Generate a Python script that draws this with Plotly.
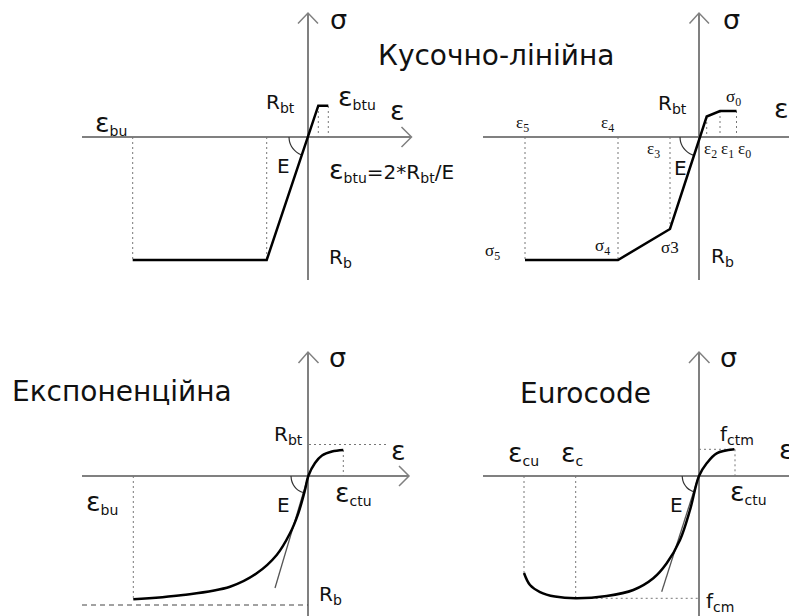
import plotly.graph_objects as go

W, H = 797, 616
PAD = 8  # відступ body сторінки в браузері

# Осі: чотири діаграми, відрізки розділені None (координати в пікселях малюнка)
axis_x = [308, 308, None, 82, 411, None, 699, 699, None, 483, 805, None,
          308, 308, None, 82, 409, None, 699, 699, None, 483, 805]
axis_y = [13, 280, None, 137, 137, None, 13, 280, None, 137, 137, None,
          352, 620, None, 476, 476, None, 352, 620, None, 476, 476]

# Стрілки осей
arrow_x = [298, 308, 318, None, 401.5, 411.5, 401.5, None,
           689.5, 699, 709, None, 795, 805, 795, None,
           298.5, 308, 318.5, None, 399, 409, 399, None,
           689, 699, 709.5, None, 795, 805, 795]
arrow_y = [23.5, 13, 23.5, None, 127, 137, 147, None,
           23.5, 13, 23.5, None, 127, 137, 147, None,
           363, 352, 363, None, 466, 476, 486, None,
           363, 352, 363, None, 466, 476, 486]

# Кусочно-лінійна (ліва, двохлінійна)
bilin_x = [132.7, 266.7, 318.3, 328.3]
bilin_y = [260, 260, 105.7, 105.7]

# Кусочно-лінійна (права, багатолінійна)
multi_x = [525, 618, 670, 706.7, 720, 736.5]
multi_y = [260, 260, 229, 116.5, 111, 111]

# Експоненційна
expo_x = [133.3, 183, 230, 256.7, 276.7, 290, 298.3, 305, 308.3, 315, 322, 332, 343.3]
expo_y = [599.3, 595, 586.7, 573.3, 555, 533.3, 513.3, 490, 476, 463, 455.5, 451.5, 450]

# Eurocode
euro_x = [524, 530, 540, 555, 575.7, 606.7, 633.3, 653.3, 666.7, 680, 690, 699, 706.7, 716.7, 734.3]
euro_y = [573, 585, 592, 596.5, 598.3, 596, 590, 578.3, 563.3, 540, 510, 476, 463.3, 453.3, 449.3]

# Дотичні (модуль E)
tang_x = [275, 308.3, None, 661.7, 698.7]
tang_y = [588, 476, None, 591.7, 476]

# Дуги кута E біля початку координат
arc_x = [289, 289.6, 291.5, 294.6, 298.5, 302, None,
         680, 680.6, 682.5, 685.6, 689.5, 693.2, None,
         291, 291.6, 293.3, 296, 299.5, 303, None,
         682.2, 682.8, 684.4, 687, 690.5, 693.7]
arc_y = [137, 141.9, 146.5, 150.4, 153.5, 155, None,
         137, 141.9, 146.5, 150.4, 153.5, 155.1, None,
         476, 480.5, 484.7, 488.3, 491, 492.5, None,
         476, 480.3, 484.3, 487.7, 490.3, 491.7]

# Допоміжні пунктирні лінії
dot_x = [132.7, 132.7, None, 266.7, 266.7, None, 318.3, 318.3, None, 328.3, 328.3, None,
         525, 525, None, 618, 618, None, 670, 670, None, 706.7, 706.7, None,
         720, 720, None, 736.5, 736.5, None,
         343.3, 343.3, None, 309, 387, None, 133.3, 133.3, None,
         524, 524, None, 575.7, 575.7, None, 575.7, 699, None, 699, 735, None, 735, 735]
dot_y = [137, 260, None, 137, 260, None, 106, 137, None, 106, 137, None,
         137, 260, None, 137, 260, None, 137, 229, None, 117, 137, None,
         111, 137, None, 111, 137, None,
         450, 476, None, 444.5, 444.5, None, 476, 599, None,
         476, 573, None, 476, 598.3, None, 598.3, 598.3, None, 449.3, 449.3, None, 449.3, 476]

# Штрихова лінія Rb
dash_x = [82, 308]
dash_y = [605, 605]

# Заголовки
title_text = ["Кусочно-лінійна", "Експоненційна", "Eurocode"]
title_x = [376, 10, 518]
title_y = [55, 391, 393]

EPS = '<span style="font-size:27px">ε</span>'
SIG = '<span style="font-size:27px">σ</span>'

# Підписи (DejaVu Sans)
lab_text = [SIG, EPS + "<sub>bu</sub>", "R<sub>bt</sub>", EPS + "<sub>btu</sub>", EPS, "E", "R<sub>b</sub>",
            SIG, "R<sub>bt</sub>", EPS, "E", "R<sub>b</sub>",
            SIG, "R<sub>bt</sub>", EPS, EPS + "<sub>bu</sub>", "E", EPS + "<sub>ctu</sub>", "R<sub>b</sub>",
            SIG, "f<sub>ctm</sub>", EPS, EPS + "<sub>cu</sub>", EPS + "<sub>c</sub>", "E",
            EPS + "<sub>ctu</sub>", "f<sub>cm</sub>"]
lab_x = [338, 110.5, 280, 357, 397, 283, 340,
         731.5, 672, 781, 680, 722,
         337.5, 288, 398, 101.5, 283.3, 353, 330,
         728, 737, 786, 523, 572, 676, 748, 720]
lab_y = [19, 123, 103, 97, 110, 166, 258,
         19, 104, 108, 168, 257,
         357, 435, 450, 502, 505, 493, 595,
         357, 435, 449, 453, 453, 505, 492, 602]

# Формула
formula_text = EPS + "<sub>btu</sub>=2*R<sub>bt</sub>/E"
formula_x, formula_y = 327, 170

# Дрібні підписи (серифний шрифт)
small_text = ["ε<sub>5</sub>", "ε<sub>4</sub>", "ε<sub>3</sub>", "ε<sub>2</sub>", "ε<sub>1</sub>", "ε<sub>0</sub>",
              "σ<sub>0</sub>", "σ<sub>5</sub>", "σ<sub>4</sub>", "σ3"]
small_x = [522, 607, 653, 710, 727, 744, 733, 492, 602, 670]
small_y = [124, 124, 150, 150, 150, 150, 98, 252, 247, 247]

fig = go.Figure()

AX = '#808080'
fig.add_trace(go.Scatter(x=axis_x, y=axis_y, mode='lines', line={'color': AX, 'width': 2}))
fig.add_trace(go.Scatter(x=arrow_x, y=arrow_y, mode='lines', line={'color': AX, 'width': 1.5}))
fig.add_trace(go.Scatter(x=dot_x, y=dot_y, mode='lines', line={'color': '#777777', 'width': 1, 'dash': '2px,3px'}))
fig.add_trace(go.Scatter(x=dash_x, y=dash_y, mode='lines', line={'color': '#444444', 'width': 1, 'dash': '5px,4px'}))
fig.add_trace(go.Scatter(x=tang_x, y=tang_y, mode='lines', line={'color': '#555555', 'width': 1.3}))
fig.add_trace(go.Scatter(x=arc_x, y=arc_y, mode='lines', line={'color': '#333333', 'width': 1.2, 'shape': 'spline'}))

for cx, cy, shp in [(bilin_x, bilin_y, 'linear'), (multi_x, multi_y, 'linear'),
                    (expo_x, expo_y, 'spline'), (euro_x, euro_y, 'spline')]:
    fig.add_trace(go.Scatter(x=cx, y=cy, mode='lines', line={'color': 'black', 'width': 2.5, 'shape': shp}))

ann = []
for t, x, y in zip(title_text, title_x, title_y):
    ann.append(dict(text=t, x=x, y=y, xanchor='left', yanchor='middle', showarrow=False,
                    font={'family': 'DejaVu Sans', 'size': 28, 'color': '#111111'}))
for t, x, y in zip(lab_text, lab_x, lab_y):
    ann.append(dict(text=t, x=x, y=y, xanchor='center', yanchor='middle', showarrow=False,
                    font={'family': 'DejaVu Sans', 'size': 20, 'color': '#111111'}))
ann.append(dict(text=formula_text, x=formula_x, y=formula_y, xanchor='left', yanchor='middle',
                showarrow=False, font={'family': 'DejaVu Sans', 'size': 20, 'color': '#111111'}))
for t, x, y in zip(small_text, small_x, small_y):
    ann.append(dict(text=t, x=x, y=y, xanchor='center', yanchor='middle', showarrow=False,
                    font={'family': 'Liberation Serif', 'size': 17, 'color': '#111111'}))

# фігура займає вікно за вирахуванням відступу body
fig.update_layout(
    width=W - PAD, height=H - PAD,
    margin={'l': 0, 'r': 0, 't': 0, 'b': 0},
    paper_bgcolor='white', plot_bgcolor='white',
    showlegend=False,
    annotations=ann,
)
fig.update_xaxes(range=[PAD, W], visible=False, fixedrange=True)
fig.update_yaxes(range=[H, PAD], visible=False, fixedrange=True)

fig.write_html("out.html")
